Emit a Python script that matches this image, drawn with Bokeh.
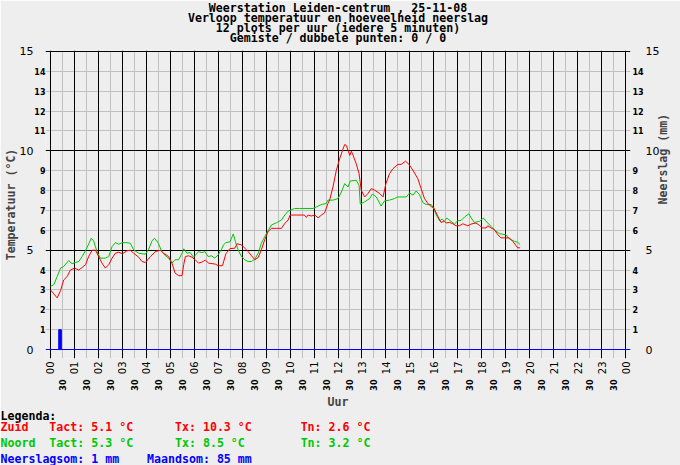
import math
from bokeh.plotting import figure
from bokeh.models import LinearAxis, FixedTicker, Grid, Range1d, Title
from bokeh.embed import file_html
from bokeh.resources import INLINE

# ---------------- data ----------------
zuid_uur = [0.0, 0.14, 0.28, 0.42, 0.55, 0.7, 0.83, 1.0, 1.18, 1.32, 1.46, 1.6, 1.74, 1.88,
            2.0, 2.15, 2.29, 2.43, 2.57, 2.71, 2.85, 3.0, 3.19, 3.33, 3.47, 3.68, 3.82, 3.96,
            4.17, 4.38, 4.58, 4.72, 4.93, 5.07, 5.2, 5.35, 5.49, 5.56, 5.63, 5.76, 5.9, 6.04,
            6.18, 6.32, 6.46, 6.6, 6.88, 7.0, 7.18, 7.32, 7.49, 7.69, 7.79, 7.97, 8.11, 8.25,
            8.39, 8.53, 8.67, 8.8, 8.94, 9.08, 9.22, 9.43, 9.64, 9.78, 9.92, 10.0, 10.26, 10.6,
            10.68, 10.75, 10.89, 11.03, 11.17, 11.31, 11.44, 11.58, 11.65, 11.79, 11.93, 12.07,
            12.21, 12.28, 12.35, 12.49, 12.56, 12.63, 12.76, 12.88, 12.97, 13.11, 13.25, 13.39,
            13.53, 13.74, 13.88, 14.0, 14.15, 14.29, 14.5, 14.64, 14.82, 14.96, 15.13, 15.33,
            15.47, 15.61, 15.75, 15.89, 16.0, 16.1, 16.2, 16.3, 16.44, 16.51, 16.65, 16.79,
            16.93, 17.07, 17.21, 17.42, 17.56, 17.76, 17.9, 18.04, 18.18, 18.25, 18.39, 18.53,
            18.67, 18.8, 19.15, 19.29, 19.43, 19.5, 19.6]
zuid_temp = [3.0, 2.8, 2.6, 2.97, 3.5, 3.68, 4.0, 4.1, 4.0, 4.13, 4.27, 4.7, 5.0, 5.0,
             4.7, 4.35, 4.1, 4.27, 4.6, 4.85, 4.9, 4.82, 4.97, 5.0, 4.85, 4.65, 4.43, 4.38,
             4.68, 4.93, 5.0, 4.85, 4.68, 4.35, 3.85, 3.72, 3.72, 4.27, 4.68, 4.72, 4.65, 4.52,
             4.35, 4.4, 4.5, 4.35, 4.3, 4.22, 4.22, 4.82, 5.08, 5.1, 5.32, 5.27, 5.1, 4.93,
             4.72, 4.52, 4.63, 5.02, 5.52, 5.93, 6.1, 6.1, 6.1, 6.35, 6.52, 6.77, 6.77, 6.77,
             6.65, 6.77, 6.72, 6.77, 6.63, 6.77, 6.88, 7.35, 7.52, 8.18, 9.02, 9.6,
             10.1, 10.32, 10.27, 9.77, 9.98, 9.77, 9.35, 8.85, 8.02, 7.68, 7.85, 8.1,
             8.02, 7.85, 7.68, 8.35, 8.85, 9.1, 9.32, 9.32, 9.48, 9.32, 9.02, 8.6,
             8.1, 7.6, 7.35, 7.2, 7.12, 6.87, 6.62, 6.4, 6.45, 6.37, 6.4, 6.33,
             6.23, 6.23, 6.33, 6.23, 6.32, 6.37, 6.25, 6.12, 6.12, 6.23, 6.12, 6.03,
             5.78, 5.62, 5.62, 5.45, 5.23, 5.12, 5.12]

noord_uur = [0.0, 0.14, 0.28, 0.42, 0.55, 0.76, 0.9, 1.04, 1.18, 1.32, 1.46, 1.6, 1.7, 1.8,
             1.94, 2.08, 2.29, 2.43, 2.57, 2.71, 2.85, 3.0, 3.19, 3.33, 3.47, 3.68, 3.82, 3.96,
             4.1, 4.24, 4.35, 4.5, 4.65, 4.8, 4.93, 5.07, 5.2, 5.35, 5.49, 5.56, 5.7, 5.83,
             5.97, 6.18, 6.32, 6.44, 6.58, 6.72, 6.86, 7.0, 7.14, 7.22, 7.32, 7.49, 7.63, 7.72,
             7.83, 7.97, 8.11, 8.25, 8.39, 8.53, 8.67, 8.8, 8.94, 9.08, 9.22, 9.43, 9.64, 9.78,
             9.92, 10.19, 10.4, 10.96, 11.1, 11.31, 11.51, 11.58, 11.79, 12.0, 12.14, 12.28,
             12.42, 12.51, 12.76, 12.88, 12.93, 13.11, 13.32, 13.43, 13.6, 13.8, 13.94, 14.15,
             14.36, 14.5, 14.85, 14.99, 15.13, 15.26, 15.4, 15.54, 15.68, 15.89, 16.0, 16.1,
             16.24, 16.35, 16.44, 16.54, 16.72, 16.86, 17.0, 17.14, 17.28, 17.46, 17.56, 17.69,
             17.9, 18.07, 18.18, 18.39, 18.53, 18.74, 19.0, 19.15, 19.36, 19.5, 19.6]
noord_temp = [3.18, 3.27, 3.68, 4.1, 4.18, 4.48, 4.32, 4.38, 4.43, 4.68, 4.98, 5.32, 5.6, 5.47,
              4.93, 4.6, 4.6, 4.68, 5.18, 5.38, 5.3, 5.38, 5.38, 5.35, 5.02, 4.85, 4.82, 4.8,
              5.05, 5.48, 5.6, 5.35, 4.93, 4.72, 4.6, 4.35, 4.52, 4.52, 4.85, 5.07, 4.85, 4.88,
              4.65, 4.93, 4.88, 4.93, 4.68, 4.72, 4.6, 4.77, 5.05, 5.27, 5.38, 5.42, 5.82, 5.43,
              5.02, 4.68, 4.52, 4.43, 4.43, 4.55, 4.85, 5.35, 5.68, 5.98, 6.27, 6.38, 6.52, 6.77,
              6.97, 7.1, 7.1, 7.1, 7.18, 7.3, 7.35, 7.52, 7.52, 7.6, 7.93, 8.35,
              8.18, 8.48, 8.52, 8.27, 7.32, 7.43, 7.6, 7.82, 7.68, 7.22, 7.48, 7.52,
              7.6, 7.68, 7.68, 7.88, 7.77, 7.98, 7.8, 7.4, 7.3, 7.3, 7.1, 6.78,
              6.48, 6.57, 6.45, 6.62, 6.45, 6.32, 6.48, 6.5, 6.67, 6.83, 6.62, 6.4,
              6.45, 6.62, 6.45, 6.2, 6.03, 5.83, 5.78, 5.57, 5.45, 5.4, 5.28]

regen_uur = [0.4]
regen_mm = [1.0]

titel_regels = ["Weerstation Leiden-centrum , 25-11-08",
                "Verloop temperatuur en hoeveelheid neerslag",
                "12 plots per uur (iedere 5 minuten)",
                "Gemiste / dubbele punten: 0 / 0"]

uren = list(range(25))
uur_labels = {u: "%02d" % (u % 24) for u in uren}
halve_uren = [u + 0.5 for u in range(24)]
half_labels = {h: "30" for h in halve_uren}
temp_major = [0, 5, 10, 15]
temp_minor = [t for t in range(1, 15) if t % 5]

legenda_kop = "Legenda:"
legenda_zuid = ["Zuid", "Tact: 5.1 °C", "Tx: 10.3 °C", "Tn: 2.6 °C"]
legenda_noord = ["Noord", "Tact: 5.3 °C", "Tx: 8.5 °C", "Tn: 3.2 °C"]
legenda_regen = ["Neerslagsom: 1 mm", "Maandsom: 85 mm"]

# ---------------- styling ----------------
BG = "#EEEEEE"
RED = "#FF0000"
GREEN = "#00C800"
BLUE = "#0000FF"
GRAY = "#C0C0C0"
MONO = "DejaVu Sans Mono"
SANS = "DejaVu Sans"
NBSP = "\u00a0"

W, H = 680, 465
BL, BR, BT, BB = 45, 48, 50, 105
FW = W - BL - BR
EXT = 5
hour_px = (FW - 2 * EXT) / 24.0

p = figure(width=W, height=H, output_backend="svg", toolbar_location=None,
           x_range=Range1d(-EXT / hour_px, 24 + EXT / hour_px),
           y_range=Range1d(-0.45, 15.05),
           x_axis_location=None, y_axis_location=None,
           min_border_left=BL, min_border_right=BR,
           min_border_top=BT, min_border_bottom=BB,
           background_fill_color=BG, border_fill_color=BG,
           outline_line_color=None)
p.grid.visible = False


def bare_axis(**kw):
    return LinearAxis(axis_line_color=None, major_tick_line_color=None,
                      minor_tick_line_color=None, major_tick_out=0, major_tick_in=0,
                      minor_tick_out=0, minor_tick_in=0,
                      major_label_text_color="black", **kw)


# grids
p.add_layout(Grid(dimension=0, ticker=FixedTicker(ticks=halve_uren), grid_line_color=GRAY))
p.add_layout(Grid(dimension=1, ticker=FixedTicker(ticks=temp_minor), grid_line_color=GRAY))
p.add_layout(Grid(dimension=0, ticker=FixedTicker(ticks=uren), grid_line_color="black"))
p.add_layout(Grid(dimension=1, ticker=FixedTicker(ticks=[5, 10, 15]), grid_line_color="black"))
p.add_layout(Grid(dimension=1, ticker=FixedTicker(ticks=[0]), grid_line_color=BLUE))

# left axes
p.add_layout(bare_axis(ticker=FixedTicker(ticks=temp_minor), major_label_standoff=0,
                       major_label_text_font=SANS, major_label_text_font_size="8px",
                       major_label_text_font_style="bold"), "left")
p.add_layout(bare_axis(ticker=FixedTicker(ticks=temp_major), major_label_standoff=-2,
                       major_label_text_font=SANS, major_label_text_font_size="11px",
                       axis_label="Temperatuur (°C)", axis_label_standoff=-1,
                       axis_label_text_font=MONO, axis_label_text_font_size="11.6px",
                       axis_label_text_font_style="bold"), "left")

# right axes
p.add_layout(bare_axis(ticker=FixedTicker(ticks=temp_minor), major_label_standoff=2,
                       major_label_text_font=SANS, major_label_text_font_size="8px",
                       major_label_text_font_style="bold"), "right")
p.add_layout(bare_axis(ticker=FixedTicker(ticks=temp_major), major_label_standoff=-1,
                       major_label_text_font=SANS, major_label_text_font_size="11px",
                       axis_label="Neerslag (mm)", axis_label_standoff=1,
                       axis_label_text_font=MONO, axis_label_text_font_size="11.6px",
                       axis_label_text_font_style="bold",
                       axis_label_orientation=math.pi / 2), "right")

# bottom axes
p.add_layout(bare_axis(ticker=FixedTicker(ticks=uren), major_label_overrides=uur_labels,
                       major_label_orientation=math.pi / 2, major_label_standoff=3,
                       major_label_text_font=SANS, major_label_text_font_size="10px"), "below")
p.add_layout(bare_axis(ticker=FixedTicker(ticks=halve_uren), major_label_overrides=half_labels,
                       major_label_orientation=math.pi / 2, major_label_standoff=2,
                       major_label_text_font=SANS, major_label_text_font_size="8px",
                       major_label_text_font_style="bold",
                       axis_label="Uur", axis_label_standoff=1,
                       axis_label_text_font=MONO, axis_label_text_font_size="11.6px",
                       axis_label_text_font_style="bold"), "below")

# series
p.vbar(x=regen_uur, top=regen_mm, bottom=0, width=0.11, color=BLUE)
p.line(noord_uur, noord_temp, line_color=GREEN, line_width=1)
p.line(zuid_uur, zuid_temp, line_color=RED, line_width=1)

# header: a blank spacer Title next to the frame, then one centred Title per line
p.title.visible = False
p.add_layout(Title(text=NBSP, align="center", standoff=-7,
                   text_font=MONO, text_font_size="11.6px",
                   text_line_height=0.95, text_color=BG), "above")
for t in reversed(titel_regels):
    p.add_layout(Title(text=t, align="center", standoff=-6,
                       text_font=MONO, text_font_size="11.6px", text_font_style="bold",
                       text_line_height=0.95, text_color="black"), "above")


def row(parts, cols):
    s = ""
    for txt, c in zip(parts, cols):
        s = s + NBSP * max(0, c - len(s)) + txt
    return s


legend_rows = [
    (legenda_kop, "black", -10),
    (row(legenda_zuid, [0, 7, 25, 43]), RED, 0),
    (row(legenda_noord, [0, 7, 25, 43]), GREEN, 0),
    (row(legenda_regen, [0, 21]), BLUE, 0),
]
for txt, col, so in legend_rows:
    p.add_layout(Title(text=txt, align="left", offset=-BL, standoff=so,
                       text_font=MONO, text_font_size="11.6px", text_font_style="bold",
                       text_line_height=0.955, text_color=col), "below")

open("out.html", "w").write(file_html(p, INLINE))
